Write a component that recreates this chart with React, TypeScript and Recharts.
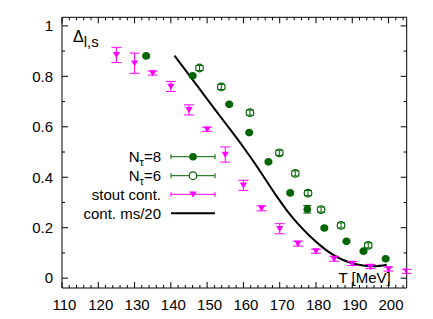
import React from 'react';
import { ComposedChart, XAxis, YAxis, Scatter, Line, ErrorBar, Legend, Label } from 'recharts';

// ---- data ----
const stoutT = [125, 130, 135, 140, 145, 150, 155, 160, 165, 170, 175, 180, 185, 190, 195, 200, 205];
const stoutV = [0.885, 0.852, 0.813, 0.76, 0.667, 0.59, 0.49, 0.368, 0.277, 0.196, 0.137, 0.107, 0.077, 0.058, 0.046, 0.036, 0.027];
const stoutErr = [0.03, 0.04, 0.008, 0.02, 0.02, 0.008, 0.03, 0.02, 0.01, 0.02, 0.01, 0.008, 0.01, 0.008, 0.008, 0.008, 0.008];

const nt8T = [133.2, 146, 156.1, 161.6, 166.9, 172.9, 177.6, 182.3, 188.4, 193.1, 199.2];
const nt8V = [0.881, 0.802, 0.689, 0.577, 0.461, 0.338, 0.273, 0.199, 0.146, 0.107, 0.077];
const nt8Err = [0.004, 0.004, 0.004, 0.004, 0.004, 0.004, 0.015, 0.004, 0.004, 0.004, 0.004];

const nt6T = [147.9, 153.9, 161.8, 169.9, 174.3, 177.8, 181.4, 186.9, 194.4];
const nt6V = [0.833, 0.758, 0.656, 0.497, 0.415, 0.337, 0.272, 0.209, 0.13];
const nt6Err = [0.01, 0.01, 0.01, 0.01, 0.01, 0.01, 0.01, 0.01, 0.01];

const contT = [141, 145, 150, 155, 160, 163, 166, 169, 172, 175, 178, 181, 184, 187, 190, 193, 196, 199.5];
const contV = [0.882, 0.806, 0.71, 0.615, 0.519, 0.458, 0.393, 0.328, 0.268, 0.216, 0.171, 0.132, 0.099, 0.075, 0.059, 0.05, 0.047, 0.053];

const xMajorTicks = [110, 120, 130, 140, 150, 160, 170, 180, 190, 200];
const yMajorTicks = [0, 0.2, 0.4, 0.6, 0.8, 1];
const yTickLabels = ['0', '0.2', '0.4', '0.6', '0.8', '1'];

const legendLabels = ['=8', '=6', 'stout cont.', 'cont. ms/20'];

const X_DOMAIN: [number, number] = [110, 205];
const Y_DOMAIN: [number, number] = [-0.039, 1.034];

const GREEN = '#006400';
const MAGENTA = '#ff00ff';
const FONT = '"Liberation Sans", Arial, Helvetica, sans-serif';

const stoutData = stoutT.map((T, i) => ({ T, v: stoutV[i], err: stoutErr[i] }));
const nt8Data = nt8T.map((T, i) => ({ T, v: nt8V[i], err: nt8Err[i] }));
const nt6Data = nt6T.map((T, i) => ({ T, v: nt6V[i], err: nt6Err[i] }));
const contData = contT.map((T, i) => ({ T, v: contV[i] }));

// tick positions: majors plus minors every 2 in x, every 0.1 in y
const xTicks: number[] = [];
for (let t = 110; t <= 204; t += 2) xTicks.push(t);
const yTicks: number[] = [];
for (let i = 0; i <= 10; i++) yTicks.push(i / 10);

const isXMajor = (v: number) => xMajorTicks.includes(v);
const yMajorIndex = (v: number) => yMajorTicks.findIndex((m) => Math.abs(m - v) < 1e-6);

const MAJ = 6;
const MIN = 3;

const BottomTick = (props: any) => {
  const { x, y, payload } = props;
  const major = isXMajor(payload.value);
  return (
    <g>
      <line x1={x} x2={x} y1={y} y2={y - (major ? MAJ : MIN)} stroke="#000" strokeWidth={1} />
      {major && (
        <text x={x + 2.5} y={y + 21.5} textAnchor="middle" fontSize={15} fontFamily={FONT} fill="#000">
          {payload.value}
        </text>
      )}
    </g>
  );
};

const TopTick = (props: any) => {
  const { x, y, payload } = props;
  const major = isXMajor(payload.value);
  return <line x1={x} x2={x} y1={y} y2={y + (major ? MAJ : MIN)} stroke="#000" strokeWidth={1} />;
};

const LeftTick = (props: any) => {
  const { x, y, payload } = props;
  const idx = yMajorIndex(payload.value);
  const major = idx >= 0;
  return (
    <g>
      <line x1={x} x2={x + (major ? MAJ : MIN)} y1={y} y2={y} stroke="#000" strokeWidth={1} />
      {major && (
        <text x={x - 9} y={y + 5.3} textAnchor="end" fontSize={15} fontFamily={FONT} fill="#000">
          {yTickLabels[idx]}
        </text>
      )}
    </g>
  );
};

const RightTick = (props: any) => {
  const { x, y, payload } = props;
  const major = yMajorIndex(payload.value) >= 0;
  return <line x1={x} x2={x - (major ? MAJ : MIN)} y1={y} y2={y} stroke="#000" strokeWidth={1} />;
};

const FilledCircle = (p: any) => <circle cx={p.cx} cy={p.cy} r={3.8} fill={GREEN} />;
const OpenCircle = (p: any) => <circle cx={p.cx} cy={p.cy} r={3.8} fill="none" stroke={GREEN} strokeWidth={1.2} />;
const TriDown = (p: any) => (
  <path d={`M${p.cx - 3.6},${p.cy - 2.8} L${p.cx + 3.6},${p.cy - 2.8} L${p.cx},${p.cy + 3.4} Z`} fill={MAGENTA} />
);

const TitleLabel = (props: any) => {
  const vb = props.viewBox || { x: 0, y: 9.3, width: 54, height: 0 };
  return (
    <text x={vb.x + vb.width + 11} y={vb.y + 24.4} fontSize={16} fontFamily={FONT} fill="#000">
      Δ<tspan dy={5} fontSize={15}>l,s</tspan>
    </text>
  );
};

const XTitle = (props: any) => {
  const vb = props.viewBox || { x: 54, y: 280, width: 344.7, height: 23 };
  return (
    <text x={vb.x + vb.width - 16} y={vb.y - 5} textAnchor="end" fontSize={15} fontFamily={FONT} fill="#000">
      T [MeV]
    </text>
  );
};

const LegendBox = () => {
  const rows = [11.7, 30.7, 49.3, 68.3];
  const tx = 91;
  const x1 = 101;
  const x2 = 145;
  const xm = 123;
  const caps = (y: number, c: string) => (
    <g>
      <line x1={x1} x2={x2} y1={y} y2={y} stroke={c} strokeWidth={1} />
      <line x1={x1} x2={x1} y1={y - 2.5} y2={y + 2.5} stroke={c} strokeWidth={1} />
      <line x1={x2} x2={x2} y1={y - 2.5} y2={y + 2.5} stroke={c} strokeWidth={1} />
    </g>
  );
  return (
    <svg width={160} height={80} style={{ display: 'block', overflow: 'visible' }}>
      <g fontFamily={FONT} fontSize={15} fill="#000">
        <text x={tx} y={rows[0] + 5.4} textAnchor="end">
          N<tspan dy={4} fontSize={11}>τ</tspan><tspan dy={-4}>{legendLabels[0]}</tspan>
        </text>
        <text x={tx} y={rows[1] + 5.4} textAnchor="end">
          N<tspan dy={4} fontSize={11}>τ</tspan><tspan dy={-4}>{legendLabels[1]}</tspan>
        </text>
        <text x={tx} y={rows[2] + 5.4} textAnchor="end">{legendLabels[2]}</text>
        <text x={tx} y={rows[3] + 5.4} textAnchor="end">{legendLabels[3]}</text>
      </g>
      {caps(rows[0], GREEN)}
      <circle cx={xm} cy={rows[0]} r={3.8} fill={GREEN} />
      {caps(rows[1], GREEN)}
      <circle cx={xm} cy={rows[1]} r={3.8} fill="#fff" stroke={GREEN} strokeWidth={1.2} />
      {caps(rows[2], MAGENTA)}
      <path d={`M${xm - 3.6},${rows[2] - 2.8} L${xm + 3.6},${rows[2] - 2.8} L${xm},${rows[2] + 3.4} Z`} fill={MAGENTA} />
      <line x1={x1} x2={x2} y1={rows[3]} y2={rows[3]} stroke="#000" strokeWidth={2} />
    </svg>
  );
};

export default function App() {
  return (
    <div style={{ width: 417, height: 303 }}>
      <ComposedChart
        width={417}
        height={303}
        margin={{ top: 8.3, right: 17.3, bottom: 0, left: 0 }}
      >
        <XAxis
          xAxisId={0}
          dataKey="T"
          type="number"
          domain={X_DOMAIN}
          allowDataOverflow
          ticks={xTicks}
          interval={0}
          tickSize={0}
          tickMargin={0}
          tickLine={false}
          tick={<BottomTick />}
          axisLine={{ stroke: '#000', strokeWidth: 1 }}
          height={23}
        >
          <Label content={<XTitle />} />
        </XAxis>
        <XAxis
          xAxisId="top"
          orientation="top"
          dataKey="T"
          type="number"
          domain={X_DOMAIN}
          allowDataOverflow
          ticks={xTicks}
          interval={0}
          tickSize={0}
          tickMargin={0}
          tickLine={false}
          tick={<TopTick />}
          axisLine={{ stroke: '#000', strokeWidth: 1 }}
          height={1}
        />
        <YAxis
          yAxisId={0}
          dataKey="v"
          type="number"
          domain={Y_DOMAIN}
          allowDataOverflow
          ticks={yTicks}
          interval={0}
          tickSize={0}
          tickMargin={0}
          tickLine={false}
          tick={<LeftTick />}
          axisLine={{ stroke: '#000', strokeWidth: 1 }}
          width={54}
        >
          <Label content={<TitleLabel />} />
        </YAxis>
        <YAxis
          yAxisId="right"
          orientation="right"
          dataKey="v"
          type="number"
          domain={Y_DOMAIN}
          allowDataOverflow
          ticks={yTicks}
          interval={0}
          tickSize={0}
          tickMargin={0}
          tickLine={false}
          tick={<RightTick />}
          axisLine={{ stroke: '#000', strokeWidth: 1 }}
          width={1}
        />
        <Line
          data={contData}
          dataKey="v"
          type="monotone"
          stroke="#000"
          strokeWidth={2}
          dot={false}
          activeDot={false}
          isAnimationActive={false}
        />
        <Scatter data={stoutData} dataKey="v" shape={<TriDown />} isAnimationActive={false}>
          <ErrorBar dataKey="err" direction="y" width={5} stroke={MAGENTA} strokeWidth={1} />
        </Scatter>
        <Scatter data={nt6Data} dataKey="v" shape={<OpenCircle />} isAnimationActive={false}>
          <ErrorBar dataKey="err" direction="y" width={4} stroke={GREEN} strokeWidth={1} />
        </Scatter>
        <Scatter data={nt8Data} dataKey="v" shape={<FilledCircle />} isAnimationActive={false}>
          <ErrorBar dataKey="err" direction="y" width={4} stroke={GREEN} strokeWidth={1} />
        </Scatter>
        <Legend
          layout="vertical"
          align="center"
          verticalAlign="middle"
          content={<LegendBox />}
          wrapperStyle={{ left: 62, top: 137, width: 160, height: 80 }}
        />
      </ComposedChart>
    </div>
  );
}
